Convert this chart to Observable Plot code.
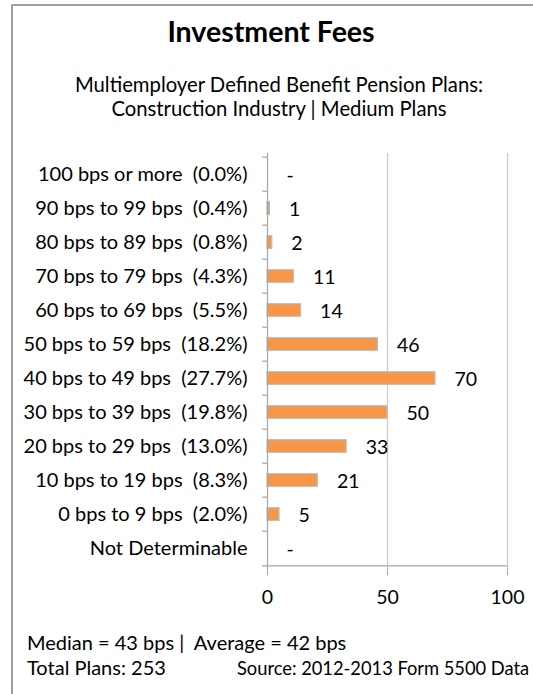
<!DOCTYPE html>
<html><head><meta charset="utf-8">
<script src="https://cdn.jsdelivr.net/npm/d3@7"></script>
<script src="https://cdn.jsdelivr.net/npm/@observablehq/plot@0.6"></script>
<style>
html,body{margin:0;padding:0}
body{width:533px;height:694px;overflow:hidden;position:relative;background:#fff;font-family:Lato,sans-serif;color:#000}
#frame{position:absolute;left:11px;top:4px;width:700px;height:900px;border:2px solid #a0a0a0;box-sizing:border-box}
.t{position:absolute;white-space:pre}
#title{left:71px;width:400px;text-align:center;top:13.6px;font-weight:bold;font-size:28.5px;line-height:1.2}
#sub{left:29px;width:500px;text-align:center;top:73.3px;font-size:20.3px;line-height:23.7px}
#chart{position:absolute;left:0;top:140px}
#chart svg text{white-space:pre}
#f1{left:27px;top:630.3px;font-size:20px;line-height:1.2}
#f2{left:27px;top:655.3px;font-size:20px;line-height:1.2}
#f3{left:237px;top:657.9px;font-size:18.3px;line-height:1.2}
</style>
</head><body>
<div id="frame"></div>
<div class="t" id="title">Investment Fees</div>
<div class="t" id="sub">Multiemployer Defined Benefit Pension Plans:
Construction Industry | Medium Plans</div>
<div id="chart"></div>
<div class="t" id="f1">Median = 43 bps |  Average = 42 bps</div>
<div class="t" id="f2">Total Plans: 253</div>
<div class="t" id="f3">Source: 2012-2013 Form 5500 Data</div>
<script>
const ranges = ["100 bps or more","90 bps to 99 bps","80 bps to 89 bps","70 bps to 79 bps","60 bps to 69 bps","50 bps to 59 bps","40 bps to 49 bps","30 bps to 39 bps","20 bps to 29 bps","10 bps to 19 bps","0 bps to 9 bps","Not Determinable"];
const percents = ["0.0%","0.4%","0.8%","4.3%","5.5%","18.2%","27.7%","19.8%","13.0%","8.3%","2.0%",null];
const counts = [0,1,2,11,14,46,70,50,33,21,5,0];
const xTicks = [0,50,100];

const labels = ranges.map((r,i)=> percents[i] ? `${r}  (${percents[i]})` : r);
const data = labels.map((l,i)=>({label:l, count:counts[i]}));

const marginTop = 13, marginBottom = 40, plotH = 416;
const step = plotH / labels.length;
const axisGray = "#a6a6a6", gridGray = "#c8c8c8";

const chart = Plot.plot({
  width: 533,
  height: marginTop + plotH + marginBottom,
  marginLeft: 267, marginRight: 26, marginTop, marginBottom,
  style: {fontFamily: "Lato, sans-serif", fontSize: "20px", color: "#000", background: "transparent"},
  x: {domain: [0,100], ticks: xTicks},
  y: {domain: labels, padding: 0},
  marks: [
    Plot.ruleX(xTicks.filter(d=>d>0), {stroke: gridGray, strokeWidth: 1.2}),
    Plot.barX(data, {x: "count", y: "label", fill: "#f79646", stroke: "#bdbdbd", strokeWidth: 1.2, insetTop: 10.7, insetBottom: 10.7}),
    Plot.ruleX([0], {stroke: axisGray, strokeWidth: 1.2}),
    Plot.ruleY(data, {y: "label", x1: 0, x2: 0, insetLeft: -5, dy: -step/2, stroke: axisGray, strokeWidth: 1.2}),
    Plot.ruleY(data.slice(-1), {y: "label", x1: 0, x2: 100, insetLeft: -5, dy: step/2, stroke: axisGray, strokeWidth: 1.2}),
    Plot.text(data, {x: "count", y: "label", text: d => d.count === 0 ? "-" : String(d.count), textAnchor: "start", dx: 19, dy: 1, fontSize: 19.5, fill: "#000"}),
    Plot.axisY({tickSize: 0, tickPadding: 20, fontSize: 20, label: null}),
    Plot.axisX({ticks: xTicks, tickSize: 6, tickPadding: 15, stroke: axisGray, fontSize: 19.5, label: null})
  ]
});
document.getElementById("chart").appendChild(chart);
</script>
</body></html>
